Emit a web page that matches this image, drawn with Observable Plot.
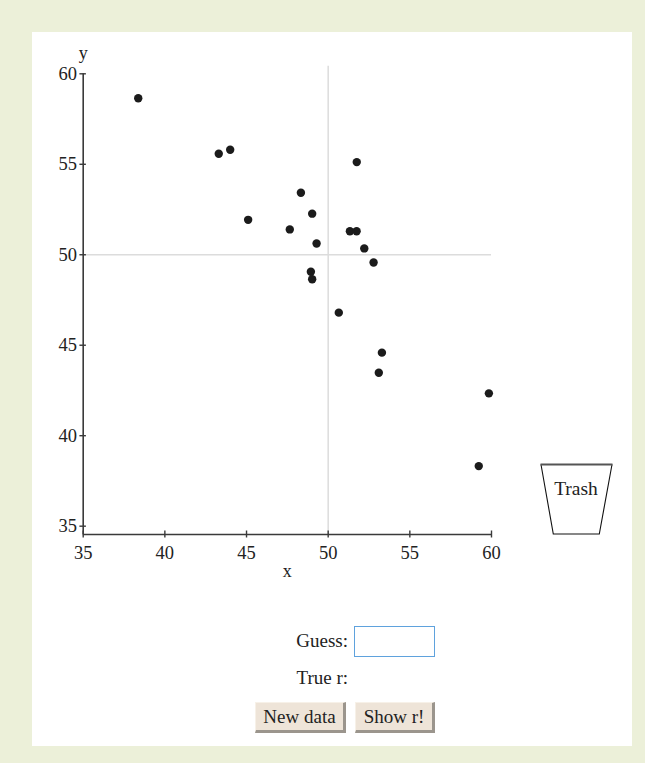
<!DOCTYPE html>
<html>
<head>
<meta charset="utf-8">
<script src="https://cdn.jsdelivr.net/npm/d3@7"></script>
<script src="https://cdn.jsdelivr.net/npm/@observablehq/plot@0.6"></script>
<style>
  html, body { margin: 0; padding: 0; }
  body { width: 645px; height: 763px; background: #ecf0d9; position: relative; overflow: hidden;
         font-family: "Liberation Serif", "DejaVu Serif", serif; color: #222; }
  #panel { position: absolute; left: 32px; top: 32px; width: 600px; height: 714px; background: #fff; }
  #chart { position: absolute; left: 0; top: 0; }
  #trash { position: absolute; left: 0; top: 0; }
  .lbl { position: absolute; font-size: 19px; line-height: 20px; text-align: right; width: 120px; }
  #guess { position: absolute; left: 354px; top: 626px; width: 81px; height: 31px; box-sizing: border-box;
           border: 1.5px solid #5fa2dd; background: #fff; padding: 0; margin: 0; outline: none; }
  .btn { position: absolute; top: 702px; height: 31px; box-sizing: border-box; padding: 0; margin: 0;
         font-family: "Liberation Serif", serif; font-size: 19px; color: #222; background: #eee4d8;
         border-top: 1px solid #f7f1e8; border-left: 1px solid #f7f1e8;
         border-right: 3px solid #9b958d; border-bottom: 3px solid #9b958d; border-radius: 0; }
</style>
</head>
<body>
<div id="panel"></div>
<div id="chart"></div>
<svg id="trash" width="645" height="763"></svg>
<div class="lbl" style="left:228px; top:631px;">Guess:</div>
<input id="guess" type="text">
<div class="lbl" style="left:228px; top:668px;">True r:</div>
<button class="btn" style="left:255px; width:91px;">New data</button>
<button class="btn" style="left:355px; width:80px;">Show r!</button>
<script>
// Data
const xValues = [38.37, 43.30, 44.00, 45.10, 47.65, 48.33, 49.02, 49.29, 48.94, 49.02,
                 51.75, 51.33, 51.74, 52.21, 52.78, 50.65, 53.29, 53.10, 59.84, 59.22];
const yValues = [58.65, 55.58, 55.80, 51.93, 51.40, 53.43, 52.27, 50.62, 49.06, 48.65,
                 55.12, 51.30, 51.30, 50.35, 49.57, 46.80, 44.59, 43.48, 42.34, 38.32];
const xTicks = [35, 40, 45, 50, 55, 60];
const yTicks = [35, 40, 45, 50, 55, 60];
const xDomain = [35, 60];
const yDomain = [34.54, 60];
const refX = 50;        // vertical reference line
const refY = 50;        // horizontal reference line
const refTop = 60.42;   // top end of the vertical reference line
const xLabel = "x";
const yLabel = "y";
const trashLabel = "Trash";

const points = xValues.map((x, i) => ({x, y: yValues[i]}));
const font = "Liberation Serif";
const axisColor = "#3a3a3a";
const tickFont = 18.5;

const plot = Plot.plot({
  width: 645,
  height: 600,
  marginLeft: 82.7,
  marginRight: 154,
  marginTop: 73.3,
  marginBottom: 66,
  style: {background: "transparent", fontFamily: font, fontSize: "18px", color: "#222", overflow: "visible"},
  x: {domain: xDomain, axis: null},
  y: {domain: yDomain, axis: null},
  marks: [
    Plot.ruleX([refX], {y1: yDomain[0], y2: refTop, stroke: "#dcdcdc", strokeWidth: 1.5}),
    Plot.ruleY([refY], {x1: xDomain[0], x2: xDomain[1], stroke: "#dcdcdc", strokeWidth: 1.5}),
    Plot.ruleY([yDomain[0]], {x1: xDomain[0], x2: xDomain[1], stroke: axisColor, strokeWidth: 1.6}),
    Plot.ruleX([xDomain[0]], {y1: yDomain[0], y2: yDomain[1], stroke: axisColor, strokeWidth: 1.6}),
    Plot.axisX(xTicks, {tickSize: 7, dy: -3.5, fill: "none", stroke: axisColor, strokeWidth: 1.4, label: null}),
    Plot.axisY(yTicks, {tickSize: 6.5, dx: 3.2, fill: "none", stroke: axisColor, strokeWidth: 1.4, label: null}),
    Plot.axisX(xTicks, {tickSize: 0, tickPadding: 10.9, fill: "#222", fontSize: tickFont, fontFamily: font, label: null}),
    Plot.axisY(yTicks, {tickSize: 0, tickPadding: 6.2, fill: "#222", fontSize: tickFont, fontFamily: font, label: null}),
    Plot.text([xLabel], {frameAnchor: "bottom", text: d => d, dy: 36.6, lineAnchor: "middle", fontSize: 18, fontFamily: font, fill: "#222"}),
    Plot.text([yLabel], {frameAnchor: "top-left", text: d => d, textAnchor: "middle", dy: -21, lineAnchor: "middle", fontSize: 18, fontFamily: font, fill: "#222"}),
    Plot.dot(points, {x: "x", y: "y", r: 4.2, fill: "#1b1b1b", stroke: "none"})
  ]
});
document.getElementById("chart").appendChild(plot);

// Trash can drawing (decoration beside the chart)
const t = d3.select("#trash");
t.append("path")
  .attr("d", "M541,464.5 L553.3,534 L599.3,534 L612,464.5")
  .attr("fill", "none").attr("stroke", "#111").attr("stroke-width", 1.1);
t.append("line")
  .attr("x1", 540.5).attr("x2", 612.5).attr("y1", 464.5).attr("y2", 464.5)
  .attr("stroke", "#555").attr("stroke-width", 2.2);
t.append("text")
  .attr("x", 576).attr("y", 495).attr("text-anchor", "middle")
  .attr("font-family", font).attr("font-size", 19.5).attr("fill", "#222")
  .text(trashLabel);
</script>
</body>
</html>
